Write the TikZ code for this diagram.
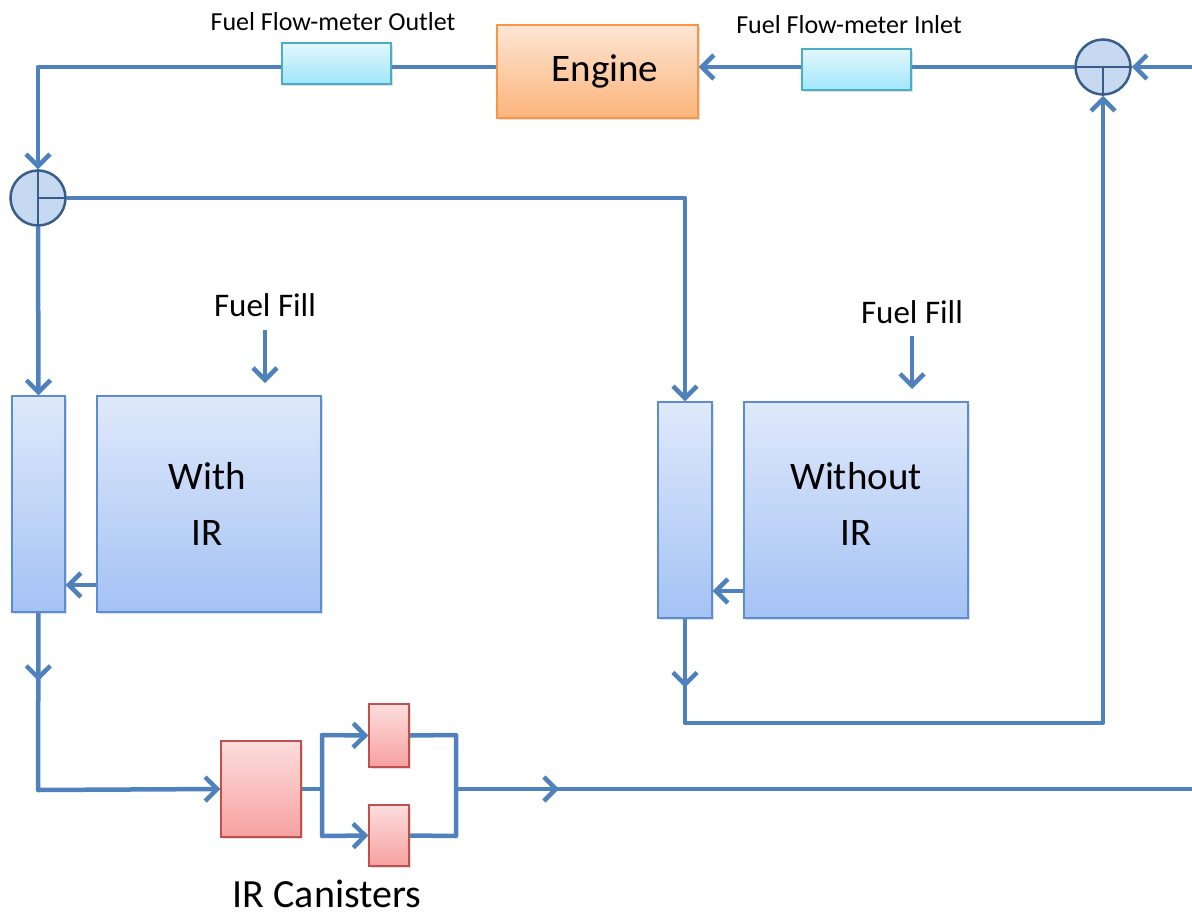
\documentclass[tikz,border=0pt]{standalone}
\usepackage{fontspec}
\setmainfont{Carlito}
\usetikzlibrary{arrows.meta,backgrounds,decorations.markings,shadows}
\definecolor{pipe}{HTML}{4F81BD}
\definecolor{circfill}{HTML}{C6D9F1}
\definecolor{circline}{HTML}{385D8A}
\definecolor{bluetop}{HTML}{DFE9FB}
\definecolor{bluebot}{HTML}{A4C2F4}
\definecolor{blueline}{HTML}{5B8DD0}
\definecolor{cyantop}{HTML}{E2F7FD}
\definecolor{cyanbot}{HTML}{A0E6FB}
\definecolor{cyanline}{HTML}{4BACC6}
\definecolor{redtop}{HTML}{FCDDDD}
\definecolor{redbot}{HTML}{F7A1A1}
\definecolor{redline}{HTML}{C0504D}
\definecolor{oratop}{HTML}{FDE6D4}
\definecolor{orabot}{HTML}{FBB47A}
\definecolor{oraline}{HTML}{F79646}
\tikzset{
  pipeline/.style={draw=pipe, line width=4.5pt, line join=round},
  tip/.style={-{Straight Barb[length=12pt,width=24pt]}},
  midarrow/.style={postaction={decorate}, decoration={markings, mark=at position #1 with {\arrow{Straight Barb[length=12pt,width=24pt]}}}},
  box/.style={rectangle, inner sep=0pt, line width=1.3pt, drop shadow={shadow xshift=2pt, shadow yshift=-2pt, opacity=0.25}},
  bluebox/.style={box, draw=blueline, top color=bluetop, bottom color=bluebot},
  cyanbox/.style={box, draw=cyanline, top color=cyantop, bottom color=cyanbot},
  redbox/.style={box, draw=redline, top color=redtop, bottom color=redbot},
  orabox/.style={box, draw=oraline, top color=oratop, bottom color=orabot},
  junction/.style={circle, minimum size=55pt, inner sep=0pt, fill=circfill, draw=circline, line width=2.5pt},
  smalllabel/.style={font=\fontsize{26}{30}\selectfont},
  filllabel/.style={font=\fontsize{33}{36}\selectfont},
  biglabel/.style={font=\fontsize{39}{56}\selectfont, align=center},
}
\begin{document}
\begin{tikzpicture}[x=1pt,y=-1pt]
\useasboundingbox (0,0) rectangle (1192,918);
% nodes
\node[orabox, minimum width=201pt, minimum height=93pt] (eng) at (597.5,71.5) {};
\node[font=\fontsize{39}{42}\selectfont] (englabel) at (605,71) {Engine};
\node[cyanbox, minimum width=109pt, minimum height=41pt] (fmo) at (336.5,63.5) {};
\node[cyanbox, minimum width=109pt, minimum height=41pt] (fmi) at (856.5,69.5) {};
\node[smalllabel] (fmolab) at (333,22) {Fuel Flow-meter Outlet};
\node[smalllabel] (fmilab) at (849,25) {Fuel Flow-meter Inlet};
\node[junction] (lcirc) at (38,198) {};
\node[junction] (rcirc) at (1103,67) {};
\node[bluebox, minimum width=53pt, minimum height=216pt] (lcol) at (38.5,504) {};
\node[bluebox, minimum width=224pt, minimum height=216pt] (ltank) at (209,504) {};
\node[biglabel] (ltanklab) at (207,504) {With\\IR};
\node[bluebox, minimum width=54pt, minimum height=216pt] (rcol) at (685,510) {};
\node[bluebox, minimum width=224pt, minimum height=216pt] (rtank) at (856,510) {};
\node[biglabel] (rtanklab) at (856,504) {Without\\IR};
\node[filllabel] (lfill) at (265,305) {Fuel Fill};
\node[filllabel] (rfill) at (912,312) {Fuel Fill};
\coordinate (lfilla) at (265,330);
\coordinate (lfillb) at (265,383);
\coordinate (rfilla) at (912,336);
\coordinate (rfillb) at (912,389);
\node[redbox, minimum width=80pt, minimum height=96pt] (bigcan) at (261,789) {};
\node[redbox, minimum width=40pt, minimum height=63pt] (sc1) at (389,735.5) {};
\node[redbox, minimum width=40pt, minimum height=61pt] (sc2) at (389,835.5) {};
\node[font=\fontsize{40}{44}\selectfont, anchor=base, inner sep=0pt] (canlab) at (327,907) {IR Canisters};
% junction internals
\draw[circline, line width=1.5pt] (lcirc.north) -- (lcirc.south);
\draw[circline, line width=1.5pt] (lcirc.center) -- (lcirc.east);
\draw[circline, line width=1.5pt] (rcirc.west) -- (rcirc.east);
\draw[circline, line width=1.5pt] (rcirc.center) -- (rcirc.south);
% free ends
\coordinate (rin) at (1192,67);
\coordinate (topleft) at (38,67);
\coordinate (lbend) at (685,198);
\coordinate (rbot1) at (685,723);
\coordinate (rbot2) at (1103,723);
\coordinate (lbot) at (38,790);
\coordinate (split) at (322,789);
\coordinate (splitt) at (322,735);
\coordinate (splitb) at (322,836);
\coordinate (joint) at (456,735);
\coordinate (joinb) at (456,836);
\coordinate (joinm) at (456,789);
\coordinate (rout) at (1192,789);
\begin{scope}[on background layer]
\draw[pipeline] (eng.west |- topleft) -- (fmo.east |- topleft);
\draw[pipeline, tip] (fmo.west |- topleft) -- (topleft) -- (lcirc.north);
\draw[pipeline] (rcirc.west) -- (fmi.east |- rcirc.west);
\draw[pipeline, tip] (fmi.west |- rcirc.west) -- (eng.east |- rcirc.west);
\draw[pipeline, tip] (rin) -- (rcirc.east);
\draw[pipeline, tip] (lcirc.south) -- (lcol.north);
\draw[pipeline, tip] (lcirc.east) -- (lbend) -- (rcol.north);
\draw[pipeline, tip] (lfilla) -- (lfillb);
\draw[pipeline, tip] (rfilla) -- (rfillb);
\draw[pipeline, tip] (ltank.west |- 0,585) -- (lcol.east |- 0,585);
\draw[pipeline, tip] (rtank.west |- 0,591) -- (rcol.east |- 0,591);
\draw[pipeline, tip, midarrow=0.06] (rcol.south) -- (rbot1) -- (rbot2) -- (rcirc.south);
\draw[pipeline, tip, midarrow=0.19] (lcol.south) -- (lbot) -- (bigcan.west);
\draw[pipeline] (bigcan.east) -- (split);
\draw[pipeline, tip] (split) -- (splitt) -- (sc1.west);
\draw[pipeline, tip] (split) -- (splitb) -- (sc2.west);
\draw[pipeline] (sc1.east) -- (joint) -- (joinb) -- (sc2.east);
\draw[pipeline, midarrow=0.14] (joinm) -- (rout);
\end{scope}
\end{tikzpicture}
\end{document}
